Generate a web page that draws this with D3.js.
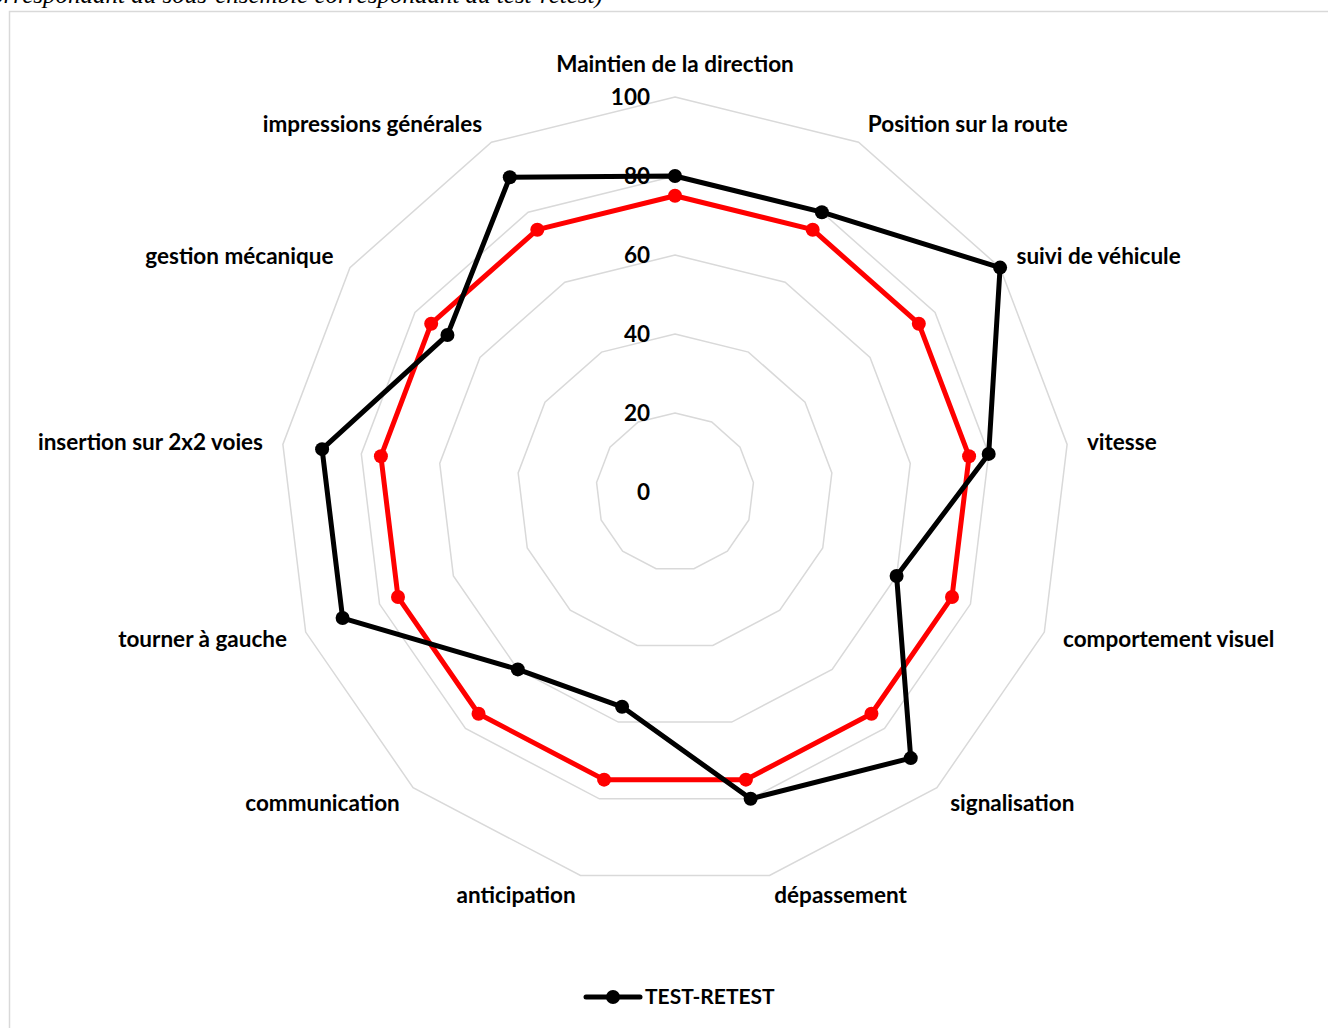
<!DOCTYPE html>
<meta charset="utf-8">
<style>
body { margin: 0; background: #fff; }
.grid path { fill: none; stroke: #d9d9d9; stroke-width: 1.5; }
.lbl { font: bold 22.5px Lato, "Open Sans", sans-serif; fill: #000; }
</style>
<body>
<script src="https://d3js.org/d3.v7.min.js"></script>
<script>

// chart data
var categories = ["Maintien de la direction", "Position sur la route", "suivi de véhicule", "vitesse",
  "comportement visuel", "signalisation", "dépassement", "anticipation", "communication",
  "tourner à gauche", "insertion sur 2x2 voies", "gestion mécanique", "impressions générales"];
var testRetest = [80, 80, 100, 80, 60, 90, 80, 56, 60, 90, 90, 70, 90];
var reference = [75, 75, 75, 75, 75, 75, 75, 75, 75, 75, 75, 75, 75];
var tickValues = [0, 20, 40, 60, 80, 100];

var W = 1328, H = 1028;
var cx = 675, cy = 492, R = 395;

var svg = d3.select("body").append("svg")
  .attr("width", W)
  .attr("height", H);

// caption of the page, cut by the top edge
svg.append("text")
  .attr("x", -20).attr("y", 3)
  .style("font", "italic 25px 'Liberation Serif', serif")
  .text("correspondant au sous-ensemble correspondant au test-retest)");

// chart frame
svg.append("rect")
  .attr("x", 9.5).attr("y", 11.5)
  .attr("width", W + 20).attr("height", H + 20)
  .attr("fill", "none").attr("stroke", "#d9d9d9").attr("stroke-width", 1.5);

var r = d3.scaleLinear().domain([0, 100]).range([0, R]);
var angle = d3.scaleLinear().domain([0, categories.length]).range([0, 2 * Math.PI]);

function pt(i, v) {
  var a = angle(i);
  return [cx + r(v) * Math.sin(a), cy - r(v) * Math.cos(a)];
}

var idx = d3.range(categories.length);
var ring = d3.line().curve(d3.curveLinearClosed);

// rings
var grid = svg.append("g").attr("class", "grid");
tickValues.filter(function(t) { return t > 0; }).forEach(function(t) {
  grid.append("path").attr("d", ring(idx.map(function(i) { return pt(i, t); })));
});

// category labels
idx.forEach(function(i) {
  var a = angle(i), s = Math.sin(a);
  var p = [cx + 415 * s, cy - 415 * Math.cos(a)];
  var t = svg.append("text").attr("class", "lbl")
    .attr("x", p[0])
    .attr("text-anchor", s > 0.01 ? "start" : (s < -0.01 ? "end" : "middle"))
    .text(categories[i]);
  if (i === 0) t.attr("y", p[1] - 5);
  else t.attr("y", p[1]).attr("dy", "0.35em");
});

// series
function drawSeries(vals, col) {
  var pts = vals.map(function(v, i) { return pt(i, v); });
  svg.append("path")
    .attr("d", ring(pts))
    .attr("fill", "none")
    .attr("stroke", col)
    .attr("stroke-width", 5)
    .attr("stroke-linejoin", "round");
  svg.append("g").selectAll("circle").data(pts).join("circle")
    .attr("cx", function(d) { return d[0]; })
    .attr("cy", function(d) { return d[1]; })
    .attr("r", 7)
    .attr("fill", col);
}
drawSeries(reference, "#ff0000");
drawSeries(testRetest, "#000000");

// radial tick labels
svg.append("g").selectAll("text").data(tickValues).join("text")
  .attr("class", "lbl")
  .attr("x", cx - 25)
  .attr("y", function(d) { return cy - r(d); })
  .attr("dy", "0.35em")
  .attr("text-anchor", "end")
  .text(function(d) { return d; });

// legend
var lg = svg.append("g").attr("transform", "translate(586,997)");
lg.append("line").attr("x1", 0).attr("x2", 54)
  .attr("stroke", "#000").attr("stroke-width", 5).attr("stroke-linecap", "round");
lg.append("circle").attr("cx", 27).attr("r", 7).attr("fill", "#000");
lg.append("text").attr("class", "lbl").attr("x", 59).attr("dy", "0.35em")
  .style("font-size", "21px")
  .text("TEST-RETEST");

</script>
</body>
